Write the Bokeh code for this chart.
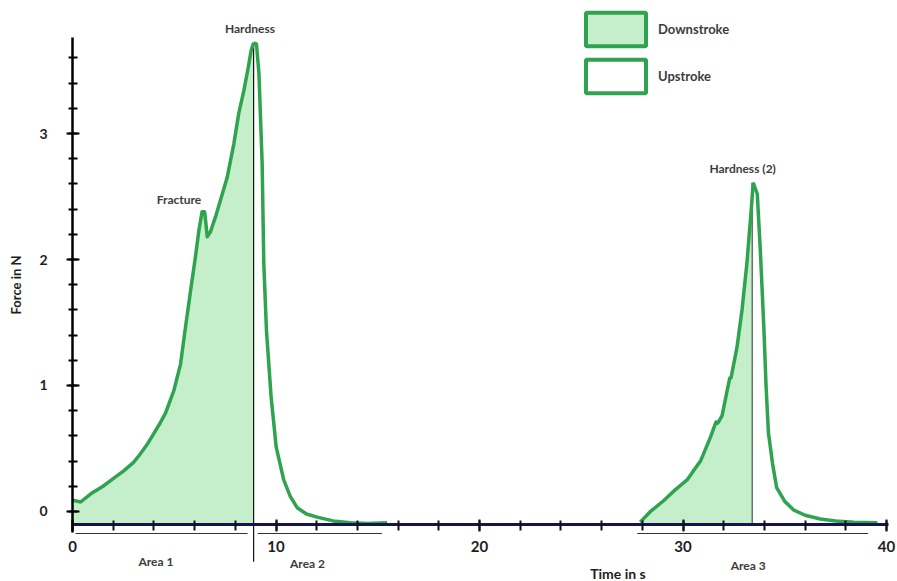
from bokeh.plotting import figure
from bokeh.models import (LinearAxis, SingleIntervalTicker, Range1d, Legend,
                          LegendItem)
from bokeh.core.properties import value
from bokeh.embed import file_html
from bokeh.resources import INLINE

# ---------------- data ----------------
baseline = -0.1

down1_t = [0.0, 0.4, 0.9, 1.5, 2.0, 2.5, 3.0, 3.3, 3.7, 4.0, 4.3, 4.57, 4.98, 5.31, 5.55,
           5.8, 6.04, 6.21, 6.37, 6.49, 6.56, 6.62, 6.78, 7.03, 7.27, 7.6, 7.93, 8.17,
           8.42, 8.62, 8.78, 8.9]
down1_f = [0.09, 0.075, 0.14, 0.20, 0.26, 0.32, 0.39, 0.45, 0.54, 0.62, 0.70, 0.78, 0.96,
           1.17, 1.46, 1.75, 2.02, 2.23, 2.38, 2.38, 2.28, 2.18, 2.22, 2.34, 2.47, 2.65,
           2.92, 3.16, 3.34, 3.51, 3.66, 3.72]

up1_t = [8.9, 9.04, 9.16, 9.32, 9.40, 9.53, 9.76, 10.01, 10.38, 10.7, 11.04, 11.5, 12.02,
         12.8, 13.66, 14.5, 15.46]
up1_f = [3.72, 3.71, 3.48, 2.76, 1.97, 1.44, 0.91, 0.51, 0.25, 0.12, 0.03, -0.02, -0.045,
         -0.075, -0.09, -0.095, -0.09]

down2_t = [27.9, 28.4, 29.06, 29.6, 30.2, 30.5, 30.86, 31.35, 31.62, 31.7, 31.78, 31.92,
           32.17, 32.3, 32.36, 32.65, 32.9, 33.14, 33.35, 33.45]
down2_f = [-0.085, 0.0, 0.087, 0.17, 0.25, 0.32, 0.40, 0.59, 0.71, 0.70, 0.72, 0.76,
           0.96, 1.06, 1.06, 1.30, 1.60, 1.97, 2.39, 2.61]

up2_t = [33.45, 33.65, 33.8, 33.97, 34.08, 34.2, 34.4, 34.6, 35.0, 35.45, 36.0, 36.75,
         37.5, 38.4, 39.55]
up2_f = [2.61, 2.52, 2.07, 1.47, 1.0, 0.62, 0.38, 0.19, 0.08, 0.01, -0.03, -0.06,
         -0.075, -0.085, -0.09]

hardness_t = [8.9, 33.4]
hardness_f = [3.72, 2.61]
hardness_bottom = [-0.4, -0.1]

area_labels = ["Area 1", "Area 2", "Area 3"]
area_start = [0.15, 9.1, 27.75]
area_end = [8.6, 15.2, 39.1]
area_line_f = -0.175
area_label_t = [4.1, 11.55, 33.2]
area_label_f = [-0.397, -0.413, -0.43]

peak_labels = ["Hardness", "Fracture", "Hardness (2)"]
peak_label_t = [8.72, 5.23, 32.93]
peak_label_f = [3.83, 2.48, 2.72]

x_title = "Time in s"
x_title_t = [26.8]
x_title_f = [-0.49]

legend_labels = ["Downstroke", "Upstroke"]

GREEN = "#2fa34f"
FILL = "#c5efca"
TEXT = "#3c3c3c"
FONT = "Lato"
NAN = float("nan")

# ---------------- figure ----------------
p = figure(width=897, height=581, x_range=Range1d(-3.538, 40.54),
           y_range=Range1d(-0.556, 4.056), output_backend="svg",
           toolbar_location=None, x_axis_location=None, y_axis_location=None,
           min_border=0)
p.outline_line_color = None
p.background_fill_color = "white"
p.border_fill_color = "white"
p.grid.visible = False

# filled downstroke areas
p.varea(x=down1_t, y1=baseline, y2=down1_f, fill_color=FILL)
p.varea(x=down2_t, y1=baseline, y2=down2_f, fill_color=FILL)

# vertical hardness lines
p.segment(x0=hardness_t, y0=hardness_bottom, x1=hardness_t, y1=hardness_f,
          line_color=["#111111", "#555555"], line_width=1.2)

# curves
for t, f in [(down1_t, down1_f), (up1_t, up1_f), (down2_t, down2_f), (up2_t, up2_f)]:
    p.line(t, f, line_color=GREEN, line_width=3.5, line_join="round")

# area brackets
p.segment(x0=area_start, y0=area_line_f, x1=area_end, y1=area_line_f,
          line_color="#333333", line_width=1.2)
p.text(x=area_label_t, y=area_label_f, text=area_labels, text_align="center",
       text_baseline="middle", text_font=value(FONT), text_font_style="bold",
       text_font_size="12px", text_color=TEXT)

# peak labels
p.text(x=peak_label_t, y=peak_label_f, text=peak_labels, text_align="center",
       text_baseline="middle", text_font=value(FONT), text_font_style="bold",
       text_font_size="12px", text_color=TEXT)

# x title
p.text(x=x_title_t, y=x_title_f, text=[x_title], text_align="center",
       text_baseline="middle", text_font=value(FONT), text_font_style="bold",
       text_font_size="14px", text_color="#1e1e1e")

# axes
xaxis = LinearAxis(fixed_location=baseline, bounds=(0, 40.1),
                   ticker=SingleIntervalTicker(interval=10, num_minor_ticks=5))
xaxis.axis_line_color = "#141450"
xaxis.axis_line_width = 3
xaxis.major_tick_line_color = "#111111"
xaxis.minor_tick_line_color = "#111111"
xaxis.major_tick_line_width = 2
xaxis.minor_tick_line_width = 2
xaxis.major_tick_in = 5
xaxis.major_tick_out = 7
xaxis.minor_tick_in = 4
xaxis.minor_tick_out = 6
xaxis.major_label_standoff = 10
xaxis.major_label_text_font = FONT
xaxis.major_label_text_font_style = "bold"
xaxis.major_label_text_font_size = "15px"
xaxis.major_label_text_color = "#1e1e1e"
p.add_layout(xaxis, "below")

yaxis = LinearAxis(fixed_location=0, bounds=(-0.17, 3.76),
                   ticker=SingleIntervalTicker(interval=1, num_minor_ticks=5),
                   axis_label="Force in N")
yaxis.axis_line_color = "#000000"
yaxis.axis_line_width = 2.5
yaxis.major_tick_line_color = "#000000"
yaxis.minor_tick_line_color = "#000000"
yaxis.major_tick_line_width = 2
yaxis.minor_tick_line_width = 2
yaxis.major_tick_in = 7
yaxis.major_tick_out = 6
yaxis.minor_tick_in = 5
yaxis.minor_tick_out = 4
yaxis.major_label_standoff = 19
yaxis.major_label_text_font = FONT
yaxis.major_label_text_font_style = "bold"
yaxis.major_label_text_font_size = "14px"
yaxis.major_label_text_color = "#1e1e1e"
yaxis.axis_label_standoff = 12
yaxis.axis_label_text_font = FONT
yaxis.axis_label_text_font_style = "bold"
yaxis.axis_label_text_font_size = "13px"
yaxis.axis_label_text_color = "#1e1e1e"
p.add_layout(yaxis, "left")

# legend (proxy patches with no visible geometry)
leg_down = p.patch(x=[NAN], y=[NAN], fill_color=FILL, line_color=GREEN, line_width=4)
leg_up = p.patch(x=[NAN], y=[NAN], fill_color="white", line_color=GREEN, line_width=4)
legend = Legend(items=[LegendItem(label=legend_labels[0], renderers=[leg_down]),
                       LegendItem(label=legend_labels[1], renderers=[leg_up])],
                location=(578, 484), glyph_width=75, glyph_height=42, spacing=5,
                label_standoff=5, padding=0, margin=0, border_line_color=None,
                background_fill_alpha=0, label_height=42,
                label_text_font=FONT, label_text_font_style="bold",
                label_text_font_size="13px", label_text_color=TEXT)
p.add_layout(legend)

open("out.html", "w").write(file_html(p, INLINE))
